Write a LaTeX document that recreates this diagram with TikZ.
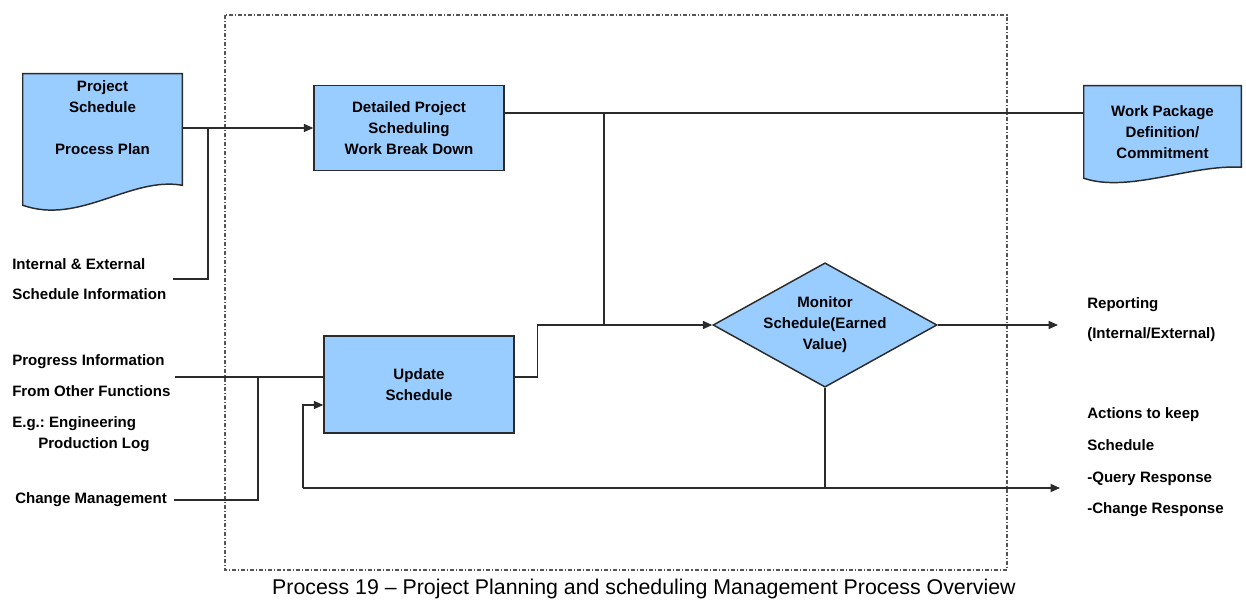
\documentclass[tikz,border=0pt]{standalone}
\usepackage{fontspec}
\setmainfont{Liberation Sans}
\usetikzlibrary{shapes.geometric,arrows.meta,calc,backgrounds}
\definecolor{boxblue}{HTML}{99CCFF}
\definecolor{edge}{HTML}{2B2B2B}
\frenchspacing
\begin{document}
\begin{tikzpicture}[
    x=0.75pt, y=-0.75pt,
    process/.style={rectangle, draw=edge, line width=1.1pt, fill=boxblue, minimum width=142.5pt, align=center, font=\bfseries\fontsize{11.3}{15.75}\selectfont},
    doc/.style={rectangle, align=center, font=\bfseries\fontsize{11.3}{15.75}\selectfont},
    docshape/.style={fill=boxblue, draw=edge, line width=1.1pt},
    decision/.style={diamond, draw=edge, line width=1.1pt, fill=boxblue, aspect=1.8, minimum width=168pt, minimum height=93pt, inner sep=0pt, align=center, font=\bfseries\fontsize{11.3}{15.75}\selectfont},
    lbl/.style={anchor=west, inner sep=0pt, align=left, font=\bfseries\fontsize{11.3}{15.75}\selectfont},
    flow/.style={draw=edge, line width=1.1pt},
    arr/.style={flow, -{Triangle[length=7pt, width=6pt]}},
    frame/.style={draw=edge!80, line width=0.8pt, dash pattern=on 3pt off 1.5pt on 0.8pt off 1.5pt}
]
\useasboundingbox (0,0) rectangle (1246,602);

% Boundary
\draw[frame] (225,15) rectangle (1007,570);

% Documents
\node[doc, minimum width=119.25pt, minimum height=66pt] (plan) at (102.5,118) {Project\\Schedule\\[15.75pt]Process Plan};
\node[doc, minimum width=117.75pt, minimum height=69pt] (wp) at (1162.5,132) {Work Package\\Definition/\\Commitment};
\begin{scope}[on background layer]
\path[docshape] (plan.north west) -- (plan.north east) -- ($(plan.south east)+(0,23)$)
    .. controls +(-52,-9) and +(57,20) .. ($(plan.south west)+(0,43)$) -- cycle;
\path[docshape] (wp.north west) -- (wp.north east) -- ($(wp.south east)+(0,-11)$)
    .. controls +(-50,-3) and +(45,15) .. (wp.south west) -- cycle;
\end{scope}

% Processes
\node[process, minimum height=63.75pt] (detail) at (409,128) {Detailed Project\\Scheduling\\Work Break Down};
\node[process, minimum height=72.75pt] (update) at (419,384.5) {Update\\Schedule};
\node[decision] (monitor) at (825,325) {Monitor\\Schedule(Earned\\Value)};

% Inputs and outputs
\node[lbl] (ext) at (12,279) {Internal \& External\\[6.75pt]Schedule Information};
\node[lbl] (prog) at (12,375.5) {Progress Information\\[7.5pt]From Other Functions};
\node[lbl] (eng) at (12,434) {E.g.: Engineering\\\hspace*{19.5pt}Production Log};
\node[lbl] (chg) at (15,500) {Change Management};
\node[lbl] (report) at (1087,320) {Reporting\\[6.75pt](Internal/External)};
\node[lbl] (action) at (1087,462.5) {Actions to keep\\[8pt]Schedule\\[8pt]-Query Response\\[8pt]-Change Response};

% Junctions
\coordinate (j1) at (208,128);
\coordinate (j2) at (604,113);
\coordinate (j4) at (258,377);
\coordinate (fbl) at (303,488);
\coordinate (fbr) at (1060,488);
\coordinate (rep) at (1058,325);

% Connectors
\draw[arr] (plan.east |- detail.west) -- (detail.west);
\draw[flow] ([xshift=5pt]ext.east) -| (j1);
\draw[flow] (detail.east |- j2) -- (wp.west |- j2);
\draw[flow] (j2) -- (j2 |- monitor.west);
\draw[flow] ([xshift=3pt]prog.east |- j4) -- (update.west |- j4);
\draw[flow] ([xshift=5pt]chg.east) -| (j4);
\draw[arr] (update.east |- j4) -- ++(23,0) |- (monitor.west);
\draw[arr] (monitor.east) -- (rep);
\draw[flow] (monitor.south) -- (monitor.south |- fbl);
\draw[arr] (fbl) -- (fbr);
\draw[arr] (fbl) |- ($(update.west)+(0,20.5)$);

% Caption
\node[font=\fontsize{16}{18}\selectfont] (cap) at (644,589) {Process 19 -- Project Planning and scheduling Management Process Overview};
\end{tikzpicture}
\end{document}
